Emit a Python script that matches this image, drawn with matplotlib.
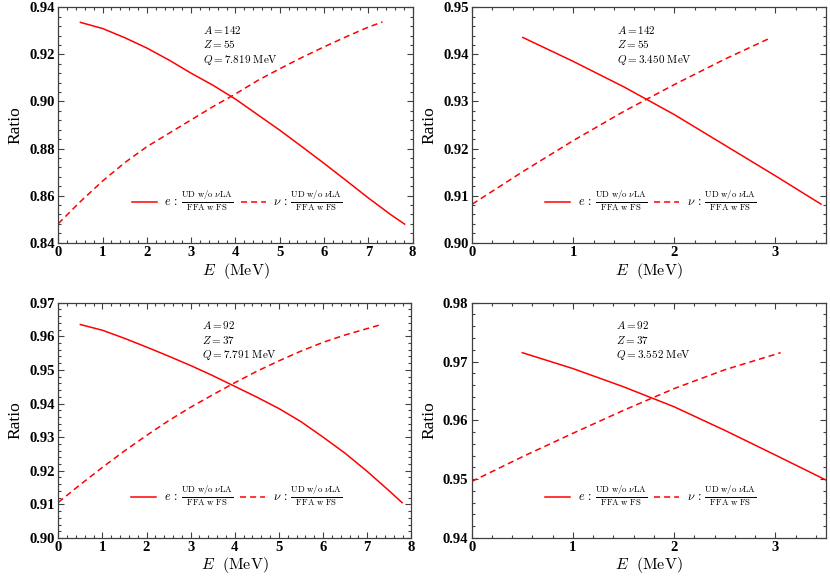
# Ratio of beta spectra (UD w/o nuLA over FFA w FS) for two nuclei, e and nu branches

import numpy as np
import matplotlib
matplotlib.use("Agg")
import matplotlib.pyplot as plt
from matplotlib.ticker import MultipleLocator, FormatStrFormatter

# Panel 1: A=142, Z=55, Q=7.819 MeV
e1_E = [0.5, 1, 1.5, 2, 2.5, 3, 3.5, 4, 4.5, 5, 5.5, 6, 6.5, 7, 7.5, 7.819]
e1_R = [0.9336, 0.9310, 0.9271, 0.9227, 0.9176, 0.9120, 0.9068, 0.9010,
        0.8944, 0.8878, 0.8808, 0.8737, 0.8664, 0.8590, 0.8520, 0.8479]
nu1_E = [0, 0.5, 1, 1.5, 2, 2.5, 3, 3.5, 4, 4.5, 5, 5.5, 6, 6.5, 7, 7.319]
nu1_R = [0.8481, 0.8575, 0.8662, 0.8740, 0.8808, 0.8865, 0.8922, 0.8979,
         0.9032, 0.9089, 0.9139, 0.9187, 0.9232, 0.9275, 0.9316, 0.9338]

# Panel 2: A=142, Z=55, Q=3.450 MeV
e2_E = [0.5, 1, 1.5, 2, 2.5, 3, 3.45]
e2_R = [0.9436, 0.9385, 0.9331, 0.9272, 0.9207, 0.9142, 0.9082]
nu2_E = [0, 0.5, 1, 1.5, 2, 2.5, 2.95]
nu2_R = [0.9082, 0.9151, 0.9217, 0.9279, 0.9336, 0.9390, 0.9435]

# Panel 3: A=92, Z=37, Q=7.791 MeV
e3_E = [0.5, 1, 1.5, 2, 2.5, 3, 3.5, 4, 4.5, 5, 5.5, 6, 6.5, 7, 7.5, 7.791]
e3_R = [0.9635, 0.9618, 0.9594, 0.9568, 0.9541, 0.9513, 0.9483, 0.9451,
        0.9419, 0.9385, 0.9346, 0.9300, 0.9252, 0.9198, 0.9140, 0.9105]
nu3_E = [0, 0.5, 1, 1.5, 2, 2.5, 3, 3.5, 4, 4.5, 5, 5.5, 6, 6.5, 7, 7.291]
nu3_R = [0.9106, 0.9159, 0.9210, 0.9259, 0.9305, 0.9349, 0.9389, 0.9426,
         0.9462, 0.9496, 0.9527, 0.9556, 0.9582, 0.9604, 0.9623, 0.9634]

# Panel 4: A=92, Z=37, Q=3.552 MeV
e4_E = [0.5, 1, 1.5, 2, 2.5, 3, 3.552]
e4_R = [0.9715, 0.9688, 0.9657, 0.9623, 0.9583, 0.9541, 0.9494]
nu4_E = [0, 0.5, 1, 1.5, 2, 2.5, 3.052]
nu4_R = [0.9496, 0.9538, 0.9578, 0.9617, 0.9654, 0.9686, 0.9715]

nuclei = [("142", "55", "7.819"), ("142", "55", "3.450"),
          ("92", "37", "7.791"), ("92", "37", "3.552")]
x_limits = [(0, 8), (0, 3.5), (0, 8), (0, 3.5)]
y_limits = [(0.84, 0.94), (0.90, 0.95), (0.90, 0.97), (0.94, 0.98)]
y_major = [0.02, 0.01, 0.01, 0.01]

# Bold serif tick numbers, computer modern for the math
plt.rcParams["font.family"] = ["Liberation Serif", "DejaVu Serif"]
plt.rcParams["font.weight"] = "bold"
plt.rcParams["mathtext.fontset"] = "cm"

FRAC = r"\frac{\mathrm{UD\ w/o}\ \nu\mathrm{LA}}{\mathrm{FFA\ w\ FS}}"


def style_axes(ax, xlim, ylim, ymaj, xpad):
    ax.set_xlim(*xlim)
    ax.set_ylim(*ylim)
    ax.xaxis.set_major_locator(MultipleLocator(1))
    ax.xaxis.set_minor_locator(MultipleLocator(0.2))
    ax.yaxis.set_major_locator(MultipleLocator(ymaj))
    ax.yaxis.set_minor_locator(MultipleLocator(ymaj / 5))
    ax.yaxis.set_major_formatter(FormatStrFormatter("%.2f"))
    ax.xaxis.set_major_formatter(FormatStrFormatter("%d"))
    ax.tick_params(which="both", direction="in", top=True, right=True,
                   color="0.25", width=0.8)
    ax.tick_params(which="major", length=4.5, labelsize=10.5, pad=2.5)
    ax.tick_params(which="minor", length=2.3)
    for sp in ax.spines.values():
        sp.set_color("0.25")
        sp.set_linewidth(0.9)
    ax.set_xlabel(r"$E\ \ (\mathrm{MeV})$", fontsize=11.5, labelpad=xpad)
    ax.set_ylabel("Ratio", fontsize=12.5, fontweight="normal", labelpad=4)


def draw_panel(ax, eE, eR, nE, nR, nuc):
    ax.plot(eE, eR, color="red", lw=1.1,
            label=r"$e\,:\,%s$" % FRAC)
    ax.plot(nE, nR, color="red", lw=1.1, ls=(0, (4, 2.6)),
            label=r"$\nu\,:\,%s$" % FRAC)
    A, Z, Q = nuc
    txt = "$A = %s$\n$Z = %s$\n$Q = %s\\ \\mathrm{MeV}$" % (A, Z, Q)
    ax.text(0.408, 0.93, txt, transform=ax.transAxes, fontsize=8,
            va="top", ha="left", linespacing=1.25)
    ax.legend(loc="center", bbox_to_anchor=(0.505, 0.178), ncol=2,
              frameon=False, fontsize=9, handlelength=2.0,
              handletextpad=0.6, columnspacing=0.6)


def main():
    fig = plt.figure(figsize=(8.3, 5.76), dpi=100)
    boxes = [
        [0.0702, 0.5786, 0.4270, 0.4087],
        [0.5690, 0.5786, 0.4262, 0.4087],
        [0.0702, 0.0660, 0.4254, 0.4085],
        [0.5683, 0.0660, 0.4269, 0.4085],
    ]
    xpads = [1.5, 1.5, 0.3, 0.3]
    curves = [(e1_E, e1_R, nu1_E, nu1_R), (e2_E, e2_R, nu2_E, nu2_R),
              (e3_E, e3_R, nu3_E, nu3_R), (e4_E, e4_R, nu4_E, nu4_R)]
    for i in range(4):
        ax = fig.add_axes(boxes[i])
        eE, eR, nE, nR = curves[i]
        draw_panel(ax, eE, eR, nE, nR, nuclei[i])
        style_axes(ax, x_limits[i], y_limits[i], y_major[i], xpads[i])
    fig.savefig("out.png", dpi=100)


if __name__ == "__main__":
    main()
